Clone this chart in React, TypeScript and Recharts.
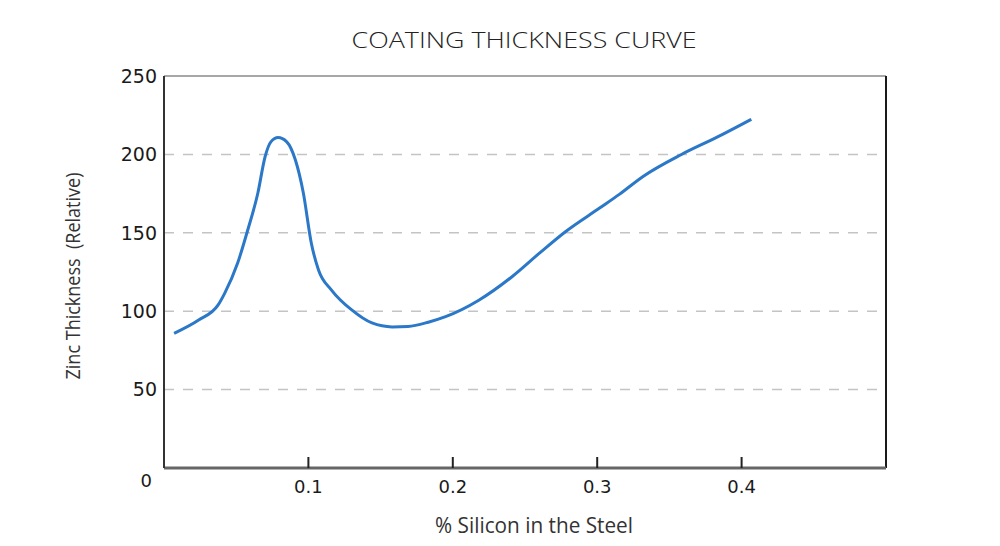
import { LineChart, Line, XAxis, YAxis, ReferenceLine } from 'recharts';

// % silicon in the steel (x) and relative zinc thickness (y)
const SILICON = [
  0.007, 0.024, 0.0375, 0.042, 0.051, 0.058, 0.065, 0.07, 0.074, 0.079, 0.085,
  0.091, 0.0965, 0.102, 0.107, 0.116, 0.13, 0.144, 0.158, 0.169, 0.183, 0.195,
  0.218, 0.241, 0.26, 0.278, 0.3014, 0.3153, 0.3315, 0.358, 0.383, 0.4067,
];
const ZINC = [
  85.9, 94.4, 104, 111.4, 130.7, 151.8, 175.4, 198.5, 208, 210.7, 208, 196.4,
  175.4, 143.5, 126.3, 113.5, 100.8, 92.5, 90, 90.3, 93, 96.5, 107, 122, 137,
  150.7, 165.6, 174.5, 185.8, 199.8, 211, 222.4,
];

const X_TICKS = [0.1, 0.2, 0.3, 0.4];
const Y_TICKS = [0, 50, 100, 150, 200, 250];
const GRID_LEVELS = [50, 100, 150, 200];

const TITLE = 'COATING THICKNESS CURVE';
const X_LABEL = '% Silicon in the Steel';
const Y_LABEL = 'Zinc Thickness \u00a0(Relative)';

const chartData = SILICON.map((s, i) => ({ si: s, zinc: ZINC[i] }));

const LABEL_FONT = "'Open Sans', 'Liberation Sans Narrow', sans-serif";
const NUM_FONT = "'DejaVu Sans', Verdana, sans-serif";

function YTick({ x, y, payload }: any) {
  if (payload.value === 0) {
    return (
      <text x={x - 12} y={y + 19} textAnchor="end" fontFamily={NUM_FONT} fontSize={18} fill="#1a1a1a">
        0
      </text>
    );
  }
  return (
    <text x={x - 7} y={y} dy="0.36em" textAnchor="end" fontFamily={NUM_FONT} fontSize={19} fill="#1a1a1a">
      {payload.value}
    </text>
  );
}

function XTick({ x, y, payload }: any) {
  return (
    <g>
      <line x1={x} x2={x} y1={y} y2={y - 11} stroke="#222" strokeWidth={2} />
      <text x={x} y={y + 25} textAnchor="middle" fontFamily={NUM_FONT} fontSize={18} fill="#1a1a1a">
        {String(payload.value)}
      </text>
    </g>
  );
}

export default function App() {
  return (
    <div style={{ position: 'absolute', left: 0, top: 0, width: 1000, height: 546, background: '#fff' }}>
      <LineChart
        width={1000}
        height={546}
        data={chartData}
        margin={{ top: 76, right: 114, bottom: 0, left: 0 }}
      >
        {GRID_LEVELS.map((v) => (
          <ReferenceLine key={v} y={v} stroke="#c4c4c4" strokeWidth={1.5} strokeDasharray="10 9" />
        ))}
        <ReferenceLine y={250} stroke="#8a8a8a" strokeWidth={1.5} />
        <ReferenceLine x={0.5} stroke="#1a1a1a" strokeWidth={2} />
        <XAxis
          dataKey="si"
          type="number"
          domain={[0, 0.5]}
          ticks={X_TICKS}
          height={78}
          tickSize={0}
          tickMargin={0}
          tickLine={false}
          axisLine={{ stroke: '#666', strokeWidth: 3 }}
          tick={<XTick />}
          label={{
            content: () => (
              <text
                x={534}
                y={533}
                textAnchor="middle"
                fontFamily={LABEL_FONT}
                fontSize={21}
                fill="#333"
                textLength={198}
                lengthAdjust="spacingAndGlyphs"
              >
                {X_LABEL}
              </text>
            ),
          }}
        />
        <YAxis
          type="number"
          domain={[0, 250]}
          ticks={Y_TICKS}
          width={164}
          tickSize={0}
          tickMargin={0}
          tickLine={false}
          axisLine={{ stroke: '#333', strokeWidth: 2 }}
          tick={<YTick />}
          label={{
            content: () => (
              <text
                x={0}
                y={0}
                transform="translate(80 276) rotate(-90)"
                textAnchor="middle"
                fontFamily={LABEL_FONT}
                fontSize={20}
                fill="#333"
                textLength={207}
                lengthAdjust="spacingAndGlyphs"
              >
                {Y_LABEL}
              </text>
            ),
          }}
        />
        <Line
          type="monotone"
          dataKey="zinc"
          stroke="#2b78c8"
          strokeWidth={3}
          dot={false}
          isAnimationActive={false}
        />
      </LineChart>
      <svg width={1000} height={70} style={{ position: 'absolute', left: 0, top: 0, pointerEvents: 'none' }}>
        <text
          x={524}
          y={48}
          textAnchor="middle"
          fontFamily={LABEL_FONT}
          fontWeight={300}
          fontSize={22}
          fill="#222"
          textLength={345}
          lengthAdjust="spacingAndGlyphs"
        >
          {TITLE}
        </text>
      </svg>
    </div>
  );
}
